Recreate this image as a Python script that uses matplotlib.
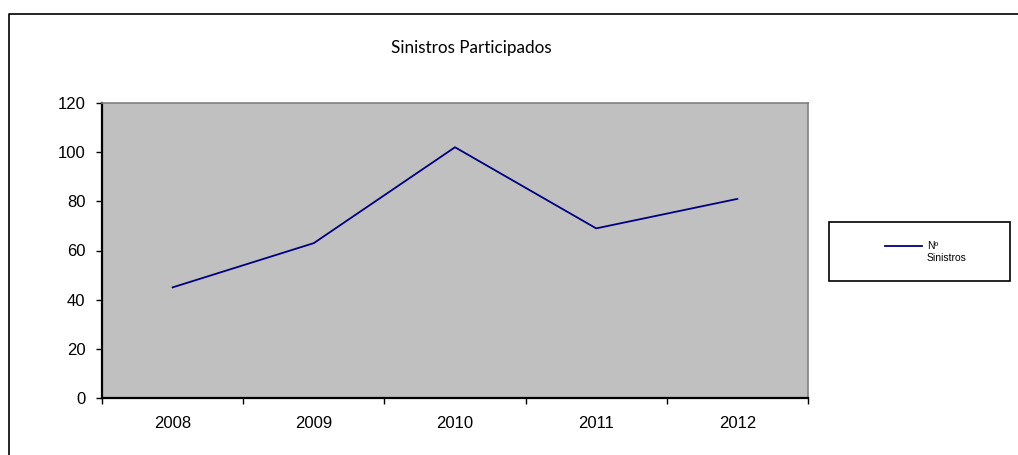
import matplotlib
matplotlib.use('Agg')
import matplotlib.pyplot as plt
from matplotlib.lines import Line2D
from matplotlib.patches import Rectangle

# data
anos = ['2008', '2009', '2010', '2011', '2012']
sinistros = [45, 63, 102, 69, 81]
y_ticks = [0, 20, 40, 60, 80, 100, 120]

W, H = 1018, 455
fig = plt.figure(figsize=(W / 100, H / 100), dpi=100)
fig.patch.set_facecolor('white')

def fx(px):
    return px / W

def fy(py):
    return 1 - py / H

# plot area
ax = fig.add_axes([fx(102), fy(398), fx(808) - fx(102), fy(103) - fy(398)])
ax.set_facecolor('#C0C0C0')

x = [i + 0.5 for i in range(len(anos))]
ax.plot(x, sinistros, color='#000080', lw=1.3)

ax.set_xlim(0, len(anos))
ax.set_ylim(0, 120)
ax.set_yticks(y_ticks)
ax.set_xticks(range(len(anos) + 1))
ax.set_xticklabels([])
ax.set_xticks(x, minor=True)
ax.set_xticklabels(anos, minor=True)

ax.tick_params(axis='y', direction='out', length=4, width=1, pad=8,
               labelsize=12, colors='black')
ax.tick_params(axis='x', which='major', direction='out', length=4, width=1)
ax.tick_params(axis='x', which='minor', length=0, pad=13, labelsize=12)
for lab in ax.get_xticklabels(minor=True) + ax.get_yticklabels():
    lab.set_fontfamily('Liberation Sans')

for s in ['left', 'bottom']:
    ax.spines[s].set_color('black')
    ax.spines[s].set_linewidth(1.6)
for s in ['top', 'right']:
    ax.spines[s].set_color('#808080')
    ax.spines[s].set_linewidth(1.2)

# title
fig.text(fx(471), fy(48), 'Sinistros Participados', ha='center', va='center',
         fontsize=12.3, family='Lato', color='black')

# outer chart border (runs off right and bottom)
fig.add_artist(Line2D([fx(9), fx(9), fx(1018)], [fy(455), fy(14), fy(14)],
                      transform=fig.transFigure, color='black', lw=1.2))

# legend
fig.add_artist(Rectangle((fx(829), fy(281)), fx(1010) - fx(829), fy(222) - fy(281),
                         transform=fig.transFigure, facecolor='white',
                         edgecolor='black', lw=1.2))
fig.add_artist(Line2D([fx(885), fx(922)], [fy(246), fy(246)],
                      transform=fig.transFigure, color='#000080', lw=1.3))
fig.text(fx(927), fy(246), 'Nº', ha='left', va='center', fontsize=7.5,
         family='Liberation Sans')
fig.text(fx(927), fy(258), 'Sinistros', ha='left', va='center', fontsize=7.5,
         family='Liberation Sans')

fig.savefig('out.png', dpi=100)
